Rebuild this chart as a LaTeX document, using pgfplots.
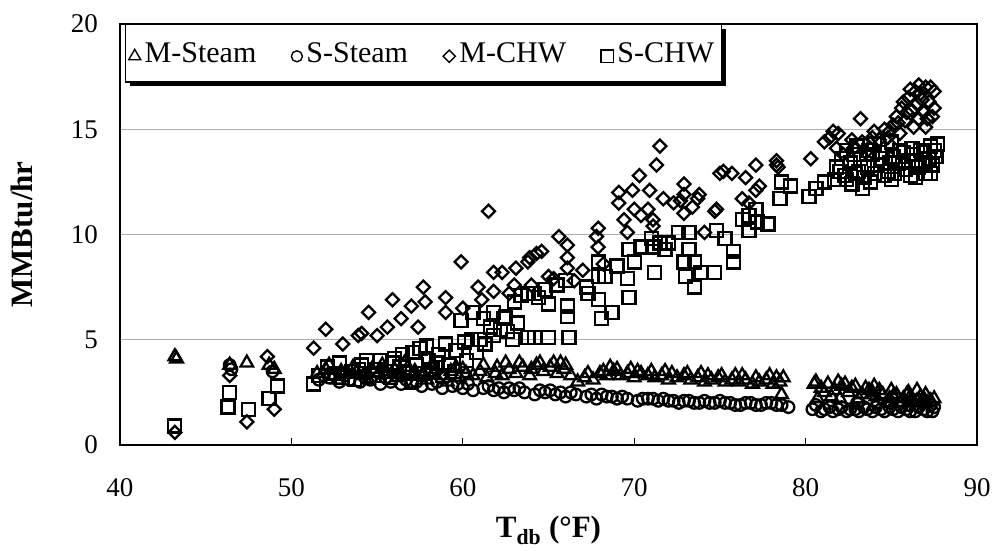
\documentclass[border=0pt]{standalone}
\usepackage{pgfplots}
\pgfplotsset{compat=1.18}
\usepackage{fontspec}
\setmainfont{Liberation Serif}
\usetikzlibrary{shadows}
\begin{document}
\begin{tikzpicture}
\useasboundingbox (-120pt,-105pt) rectangle (873pt,445pt);
\begin{axis}[
  scale only axis, width=857pt, height=421pt,
  xmin=40, xmax=90, ymin=0, ymax=20,
  xtick={40,50,...,90}, ytick={0,5,...,20},
  xtick pos=bottom, ytick pos=left,
  tick align=inside, major tick length=7pt,
  xtick style={black, line width=1pt},
  ytick style={draw=none},
  axis line style={black, line width=1.5pt},
  ymajorgrids, major grid style={gray!65, line width=1.2pt},
  /pgf/number format/assume math mode=true,
  tick label style={font=\fontsize{27}{30}\selectfont},
  xticklabel style={anchor=center, yshift=-43pt},
  yticklabel style={anchor=east, inner sep=0pt, xshift=-22pt},
  xlabel={\textbf{T\textsubscript{db} (°F)}},
  ylabel={\textbf{MMBtu/hr}},
  every axis x label/.style={at={(axis description cs:0.5,-0.203)}, anchor=center, inner sep=0pt, font=\fontsize{31}{35}\selectfont},
  every axis y label/.style={at={(axis description cs:-0.1143,0.5)}, rotate=90, anchor=center, inner sep=0pt, font=\fontsize{31}{35}\selectfont},
  legend columns=4,
  legend style={at={(axis description cs:0.006,1)}, anchor=north west,
    draw=black, line width=1.2pt, fill=white,
    drop shadow={shadow xshift=4.5pt, shadow yshift=-4.5pt, opacity=1, fill=black},
    font=\fontsize{30}{34}\selectfont,
    nodes={inner xsep=4pt, inner ysep=16pt},
    /tikz/every even column/.append style={column sep=31pt}},
  legend image code/.code={\draw[#1, mark size=0.95\pgfplotmarksize, line width=1.4pt] plot coordinates {(6.5pt,-3pt)};},
  every axis plot/.append style={only marks, black, line width=2.3pt},
]
% M-Steam
\addplot[mark=triangle, mark size=7.3pt] coordinates {
(43.2,4.2)(43.3,4.1)(46.4,3.8)(47.4,3.9)(48.7,3.8)(49.0,3.6)
(51.5,3.4)(52.0,3.6)(52.4,3.3)(52.9,3.5)(53.3,3.4)(53.8,3.5)(54.2,3.3)(54.7,3.6)(55.1,3.4)(55.5,3.5)
(56.0,3.6)(56.4,3.4)(56.8,3.7)(57.2,3.5)(57.6,3.3)(58.0,3.4)(58.4,3.6)(58.9,3.3)(59.3,3.5)(59.8,3.2)
(60.2,3.4)(60.6,3.3)(61.0,3.5)(61.4,3.2)(61.9,3.4)(62.3,3.3)(62.7,3.6)(63.1,3.4)(63.5,3.7)(63.9,3.3)
(64.3,3.8)(64.7,3.5)(65.1,3.7)(65.5,3.4)(65.9,3.6)(66.3,3.3)(66.7,3.0)(67.1,3.2)(67.6,3.1)(68.0,3.4)
(68.4,3.3)(68.8,3.5)(69.2,3.3)(69.6,3.4)(70.0,3.2)(70.4,3.4)(70.8,3.3)(71.2,3.2)(71.6,3.3)(72.0,3.1)
(72.5,3.2)(72.9,3.3)(73.3,3.1)(73.7,3.2)(74.1,3.0)(74.5,3.1)(74.9,3.2)(75.3,3.0)(75.7,3.1)(76.1,3.0)
(76.5,3.1)(76.9,2.9)(77.3,3.0)(77.7,3.1)(78.1,2.9)(78.5,3.0)(78.6,2.4)
(60.0,3.6)(62.0,3.7)(64.0,3.6)(65.3,3.9)(66.0,3.8)(68.2,3.5)(69.0,3.6)(70.2,3.5)(72.2,3.4)(74.3,3.3)(76.3,3.3)(78.3,3.2)
(52.2,3.8)(53.6,3.7)(55.3,3.8)(56.6,3.9)(58.2,3.8)(59.6,3.7)(61.2,3.8)(62.5,3.9)(63.3,3.9)(64.5,3.9)
(65.7,3.9)(67.3,3.4)(68.6,3.7)(69.8,3.6)(71.0,3.5)(71.8,3.5)(73.1,3.4)(73.9,3.4)(75.1,3.3)(75.9,3.3)
(77.1,3.2)(77.9,3.3)(78.7,3.2)(52.7,3.1)(54.5,3.1)(56.2,3.2)(57.9,3.1)(59.1,3.0)
(80.5,2.9)(80.9,2.7)(81.3,2.9)(81.7,2.6)(82.1,2.8)(82.5,2.5)(82.9,2.8)(83.3,2.4)(83.7,2.6)(84.1,2.3)
(84.5,2.4)(84.9,2.2)(85.3,2.4)(85.7,2.2)(86.1,2.3)(86.5,2.1)(86.9,2.2)(87.3,2.1)(80.7,2.2)(81.5,2.3)
(82.3,2.9)(83.5,2.7)(85.0,2.6)(86.0,2.5)(87.0,2.4)
(80.6,3.0)(81.1,2.5)(81.9,3.0)(82.7,2.7)(83.1,2.2)(83.9,2.5)(84.3,2.6)(84.7,2.0)(85.1,2.3)(85.5,2.0)
(85.9,2.4)(86.3,2.0)(86.7,2.3)(87.1,2.0)(87.5,2.2)(82.0,2.2)(84.0,2.8)(86.5,2.6)
};
\addlegendentry{M-Steam}
% S-Steam
\addplot[mark=o, mark size=5.8pt] coordinates {
(46.4,3.8)(46.5,3.6)(48.9,3.5)
(51.6,3.1)(52.2,3.2)(52.8,3.0)(53.4,3.1)(54.0,3.0)(54.6,3.1)(55.2,2.9)(55.8,3.0)(56.4,2.9)(57.0,3.0)
(57.6,2.8)(58.2,2.9)(58.8,2.7)(59.4,2.8)(60.0,2.7)(60.6,2.6)(61.2,2.7)(61.8,2.6)(62.4,2.5)(63.0,2.6)
(63.6,2.5)(64.2,2.4)(64.8,2.5)(65.4,2.4)(66.0,2.3)(66.6,2.4)(67.2,2.3)(67.8,2.2)(68.4,2.3)(69.0,2.2)
(69.6,2.2)(70.2,2.1)(70.8,2.2)(71.4,2.1)(72.0,2.1)(72.6,2.0)(73.2,2.1)(73.8,2.0)(74.4,2.0)(75.0,2.1)
(75.6,2.0)(76.2,1.9)(76.8,2.0)(77.4,1.9)(78.0,2.0)(78.6,1.9)(79.0,1.8)
(51.9,3.3)(53.1,3.3)(54.3,3.2)(55.5,3.2)(56.7,3.1)(57.3,3.0)(58.5,3.0)(59.7,2.9)(60.3,2.9)(61.5,2.8)
(62.1,2.7)(62.7,2.7)(63.3,2.7)(64.5,2.6)(65.1,2.6)(65.7,2.5)(66.3,2.5)(67.5,2.4)(68.1,2.4)(68.7,2.3)
(69.3,2.3)(70.5,2.2)(71.1,2.2)(71.7,2.2)(72.3,2.1)(72.9,2.1)(73.5,2.0)(74.1,2.1)(74.7,2.0)(75.3,2.0)
(75.9,1.9)(76.5,2.0)(77.1,1.9)(77.7,2.0)(78.3,1.9)
(80.4,1.7)(80.9,1.6)(81.4,1.8)(81.9,1.7)(82.4,1.6)(82.9,1.7)(83.4,1.8)(83.9,1.6)(84.4,1.7)(84.9,1.8)
(85.4,1.6)(85.9,1.7)(86.4,1.6)(86.9,1.7)(87.4,1.6)(87.3,1.9)(85.0,2.0)(83.0,2.0)(86.0,1.9)
(80.6,1.9)(81.1,1.7)(81.6,1.6)(82.1,1.8)(82.6,1.7)(83.1,1.6)(83.6,1.7)(84.1,1.8)(84.6,1.6)(85.1,1.7)
(85.6,1.8)(86.1,1.6)(86.6,1.8)(87.1,1.6)(87.5,1.8)(84.2,2.0)(86.8,2.0)
};
\addlegendentry{S-Steam}
% M-CHW
\addplot[mark=square, mark size=4.6pt, mark options={rotate=45}] coordinates {
(43.2,0.6)(46.4,3.3)(47.4,1.1)(48.6,4.2)(49.0,1.7)
(51.3,4.6)(52.0,5.5)(53.0,4.8)(53.9,5.2)(54.1,5.3)(54.5,6.3)(55.0,5.2)(55.6,5.6)(55.9,6.9)(56.4,6.0)
(57.0,6.6)(57.4,5.6)(57.7,7.5)(57.8,6.8)(59.0,7.0)(59.0,6.3)(59.9,8.7)(60.0,6.5)(60.9,7.5)(61.1,6.9)
(61.5,11.1)(61.8,8.2)(61.8,7.3)(62.3,8.2)(63.0,7.6)(63.1,8.4)(63.8,8.7)(64.3,9.1)(63.9,8.9)(64.6,9.2)
(65.6,9.9)(66.1,9.5)(66.1,8.9)(66.1,8.4)(65.0,8.0)(66.5,7.8)(62.7,7.2)(64.0,7.6)(65.3,7.9)(67.0,8.3)
(67.8,9.9)(67.9,10.3)(67.9,9.4)(68.2,8.6)(69.1,12.0)(69.1,11.5)(69.4,10.7)(69.6,10.1)(69.9,12.1)
(70.0,11.2)(70.3,12.8)(70.4,10.9)(70.8,11.2)(70.9,12.1)(71.1,10.7)(71.1,10.4)(71.3,13.3)(71.5,14.2)
(71.7,11.7)(72.3,11.5)(72.7,11.6)(72.9,12.4)(72.9,11.9)(72.9,11.0)(73.4,11.3)(73.7,11.7)(73.8,11.9)
(74.1,10.1)(74.7,11.1)(74.8,11.2)(75.0,12.9)(75.2,13.0)(75.7,12.9)(76.3,11.7)(76.5,12.7)(76.7,11.5)
(77.1,13.3)(77.1,12.1)(77.3,12.3)(78.3,13.3)(78.3,13.5)(78.4,13.2)
(80.3,13.6)(81.1,14.4)(81.4,14.6)(81.6,14.9)(81.9,14.8)(82.7,14.5)(83.2,15.5)(83.3,14.4)(83.9,14.6)
(84.3,14.5)(84.9,14.9)(85.1,15.2)(85.3,15.6)(85.6,16.0)(86.0,16.5)(86.4,16.8)(86.7,16.7)(87.0,17.0)
(87.5,16.8)(87.0,15.1)(87.5,16.0)(87.4,15.6)(85.8,15.4)(86.2,15.9)(86.5,16.2)(86.8,16.4)(86.3,15.1)
(85.5,14.8)(86.9,15.8)(87.2,16.3)(84.6,15.0)(82.2,13.8)(83.5,13.9)(85.0,14.2)
(85.7,16.3)(86.1,16.9)(86.6,17.1)(87.3,17.0)(85.9,15.8)(86.6,15.5)(87.1,15.5)(85.4,15.3)(84.8,14.6)
(84.0,14.9)(82.8,14.1)(81.8,14.1)
};
\addlegendentry{M-CHW}
% S-CHW
\addplot[mark=square, mark size=6.5pt] coordinates {
(43.2,0.9)(46.4,2.5)(46.3,1.8)(47.5,1.7)(48.7,2.2)(49.2,2.8)
(51.3,2.9)(51.6,3.3)(52.1,3.7)(52.5,3.4)(53.0,3.2)(53.5,3.5)(53.9,3.6)(54.4,4.0)(54.8,3.3)(55.2,4.0)
(55.5,3.5)(55.8,3.2)(56.0,4.1)(56.3,3.7)(56.5,4.3)(56.8,3.4)(57.0,3.0)(57.1,4.4)(57.3,3.8)(57.5,4.6)
(57.9,4.7)(58.2,3.6)(58.5,3.9)(58.8,3.3)(59.0,4.8)(59.5,3.5)(59.9,5.9)(60.1,4.9)(60.6,6.3)(60.5,5.0)
(61.2,6.0)(61.0,5.0)(61.8,6.3)(61.8,5.2)(62.2,5.5)(62.6,5.4)(62.5,6.1)(63.2,5.8)(63.0,6.8)(63.4,7.1)
(63.8,7.2)(64.2,7.2)(63.8,5.1)(64.2,5.1)(65.0,5.1)(65.0,6.7)(64.4,7.0)(64.8,7.4)(65.5,7.6)(66.1,6.6)
(66.1,6.1)(66.2,5.1)(66.0,7.8)(67.2,7.5)(67.3,7.2)(67.9,8.0)(67.9,8.7)(68.3,8.0)(67.9,6.9)(68.1,6.0)
(68.7,6.3)(69.0,8.5)(69.7,7.0)(69.6,7.9)(70.0,8.7)(69.7,9.3)(70.4,9.4)(71.0,9.8)(71.1,9.4)(71.5,9.6)
(71.2,8.2)(71.8,9.3)(72.0,9.6)(72.6,10.1)(72.9,8.7)(73.0,8.0)(73.2,10.1)(73.2,9.3)(73.5,7.5)(73.5,8.7)
(73.9,8.2)(74.7,8.2)(74.8,10.2)(75.3,9.8)(75.8,9.2)(75.8,8.7)(76.3,10.7)(76.7,10.9)(76.7,10.2)(77.1,11.2)
(77.2,10.6)(77.8,10.5)(78.5,11.7)(78.6,12.5)(79.1,12.3)
(52.8,3.9)(53.7,3.1)(54.1,3.8)(55.0,3.6)(55.9,3.9)(56.6,3.5)(57.7,3.4)(58.0,4.0)(58.6,4.3)(59.2,3.8)
(59.6,4.5)(60.2,4.0)(60.8,4.4)(61.3,4.8)(61.6,5.6)(62.4,6.0)(62.9,5.0)
(80.2,11.8)(80.6,12.2)(81.1,12.5)(81.7,12.6)(82.0,13.0)(82.3,12.8)(82.6,13.4)(82.9,12.9)(83.2,13.6)
(83.3,12.2)(83.6,13.2)(83.9,13.8)(84.2,13.3)(84.5,13.6)(84.8,13.0)(85.1,13.7)(85.4,13.4)(85.7,13.9)
(86.0,13.5)(86.3,13.8)(86.6,13.2)(86.9,13.9)(87.0,12.9)(87.2,13.6)(87.5,14.0)(87.7,14.3)(87.4,13.3)
(82.4,14.0)(83.0,14.2)(84.0,14.3)(85.0,14.4)(86.2,14.1)
(81.8,13.2)(82.1,13.6)(82.4,12.6)(82.8,13.8)(83.1,13.0)(83.4,12.7)(83.7,14.0)(84.0,12.9)(84.3,13.9)
(84.6,12.8)(84.9,13.4)(85.2,12.9)(85.5,14.0)(85.8,13.1)(86.1,12.8)(86.4,13.5)(86.7,14.0)(87.0,13.4)
(87.3,12.9)(87.6,13.7)(82.7,12.4)(83.8,12.5)(85.0,12.6)(86.4,12.7)(87.3,14.2)
};
\addlegendentry{S-CHW}
\end{axis}
\end{tikzpicture}
\end{document}
